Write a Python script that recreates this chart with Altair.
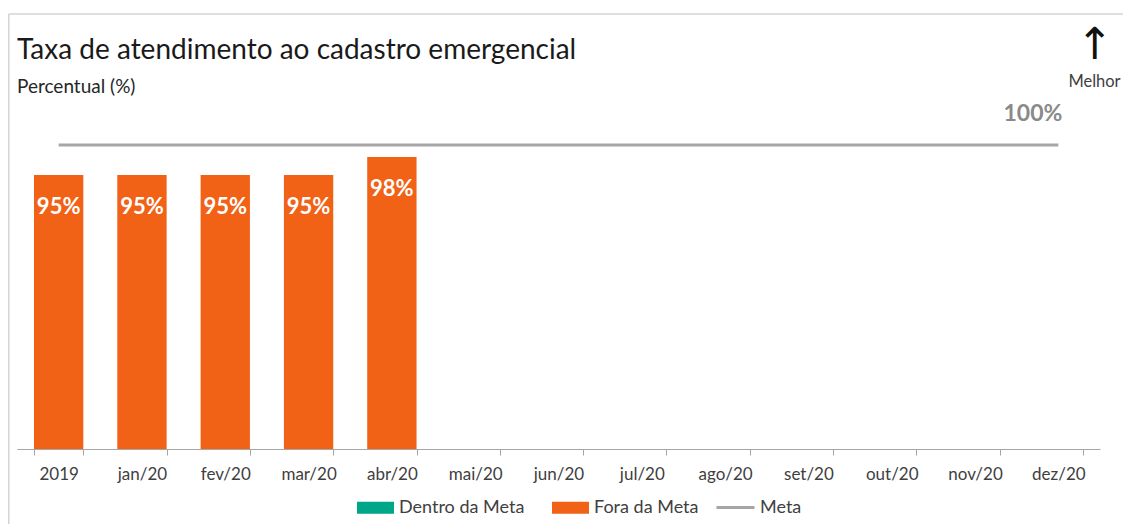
import altair as alt
import pandas as pd

# ---- data ----
categorias = ["2019", "jan/20", "fev/20", "mar/20", "abr/20", "mai/20", "jun/20",
              "jul/20", "ago/20", "set/20", "out/20", "nov/20", "dez/20"]
taxa = [95, 95, 95, 95, 98, None, None, None, None, None, None, None, None]
meta = [100, 100, 100, 100, 100, 100, 100, 100, 100, 100, 100, 100, 100]
situacao = ["Fora da Meta", "Fora da Meta", "Fora da Meta", "Fora da Meta", "Fora da Meta",
            None, None, None, None, None, None, None, None]
legenda_barras = ["Dentro da Meta", "Fora da Meta"]
legenda_linha = ["Meta"]

TITULO = "Taxa de atendimento ao cadastro emergencial"
SUBTITULO = "Percentual (%)"
SETA = "↑"
MELHOR = "Melhor"

VERDE = "#00A688"
LARANJA = "#F16116"
CINZA = "#A6A6A6"
Y_MIN, Y_MAX = 49.33, 105

df = pd.DataFrame({
    "cat": categorias,
    "taxa": taxa,
    "meta": meta,
    "status": situacao,
    "serie": legenda_linha * len(categorias),
})
df["rotulo"] = df["taxa"].map(lambda v: f"{v:.0f}%" if pd.notna(v) else "")
df["rotulo_meta"] = df["meta"].map(lambda v: f"{v:.0f}%")

x_enc = alt.X(
    "cat:N", sort=categorias,
    scale=alt.Scale(paddingInner=0.408, paddingOuter=0.204),
    axis=alt.Axis(title=None, labelAngle=0, tickBand="extent", grid=False,
                  labelFont="Lato", labelFontSize=17, labelColor="#404040",
                  labelBaseline="alphabetic", labelPadding=24,
                  tickSize=6, tickColor="#A6A6A6", domainColor="#A6A6A6",
                  domainWidth=1, tickWidth=1),
)
y_scale = alt.Scale(domain=[Y_MIN, Y_MAX], zero=False, nice=False)

base = alt.Chart(df)

barras = base.transform_filter("isValid(datum.taxa)").mark_bar().encode(
    x=x_enc,
    y=alt.Y("taxa:Q", scale=y_scale, axis=None),
    y2=alt.datum(Y_MIN),
    color=alt.Color(
        "status:N",
        scale=alt.Scale(domain=legenda_barras, range=[VERDE, LARANJA]),
        legend=alt.Legend(title=None, orient="none", legendX=340, legendY=374,
                          direction="horizontal", columns=2,
                          symbolType="M-1,-0.32H1V0.32H-1Z", symbolSize=1369,
                          symbolStrokeWidth=0, symbolOpacity=1,
                          labelFont="Lato", labelFontSize=18, labelColor="#404040",
                          labelOffset=5, columnPadding=27, padding=0),
    ),
)

linha = base.mark_line(strokeWidth=3).encode(
    x=x_enc,
    y=alt.Y("meta:Q", scale=y_scale, axis=None),
    stroke=alt.Stroke(
        "serie:N",
        scale=alt.Scale(domain=legenda_linha, range=[CINZA]),
        legend=alt.Legend(title=None, orient="none", legendX=698, legendY=372,
                          symbolType="stroke", symbolSize=1444, symbolStrokeWidth=3,
                          labelFont="Lato", labelFontSize=18, labelColor="#404040",
                          labelOffset=4, padding=0),
    ),
)

rotulos = base.transform_filter("isValid(datum.taxa)").mark_text(
    font="Lato", fontWeight="bold", fontSize=22, color="white",
    baseline="alphabetic", dy=39,
).encode(x=x_enc, y=alt.Y("taxa:Q", scale=y_scale), text="rotulo:N")

rotulo_meta = base.transform_filter(alt.datum.cat == categorias[-1]).mark_text(
    font="Lato", fontWeight="bold", fontSize=23, color="#8A8A8A",
    align="right", baseline="alphabetic", dx=4, dy=-24,
).encode(x=x_enc, y=alt.Y("meta:Q", scale=y_scale), text="rotulo_meta:N")


def texto(t, x, y, **kw):
    return alt.Chart(pd.DataFrame({"t": [t]})).mark_text(**kw).encode(
        x=alt.value(x), y=alt.value(y), text="t:N")


titulo = texto(TITULO, 0, -55.7, align="left", baseline="alphabetic",
               font="Lato", fontSize=28, color="#1A1A1A")
subtitulo = texto(SUBTITULO, 0, -22, align="left", baseline="alphabetic",
                  font="Lato", fontSize=19, color="#262626")
seta = texto(SETA, 1078, -69, align="center", baseline="middle",
             font="DejaVu Sans", fontSize=44, color="#111111")
melhor = texto(MELHOR, 1077.5, -28, align="center", baseline="alphabetic",
               font="Lato", fontSize=16.5, color="#404040")

moldura = alt.Chart(pd.DataFrame({"a": [0]}))
borda_topo = moldura.mark_rule(color="#D4D4D4", strokeWidth=1.5).encode(
    x=alt.value(-8.25), x2=alt.value(1106), y=alt.value(-101))
borda_esq = moldura.mark_rule(color="#D4D4D4", strokeWidth=1.5).encode(
    x=alt.value(-8.25), y=alt.value(-101), y2=alt.value(409))

chart = alt.layer(
    borda_topo, borda_esq, barras, linha, rotulos, rotulo_meta,
    titulo, subtitulo, seta, melhor,
).properties(
    width=1083, height=334,
    padding={"left": 9, "top": 107, "right": 23, "bottom": 75},
    autosize=alt.AutoSizeParams(type="none"),
    background="white",
).configure_view(stroke=None)

chart.save("out.html", embed_options={"renderer": "svg", "actions": False})
